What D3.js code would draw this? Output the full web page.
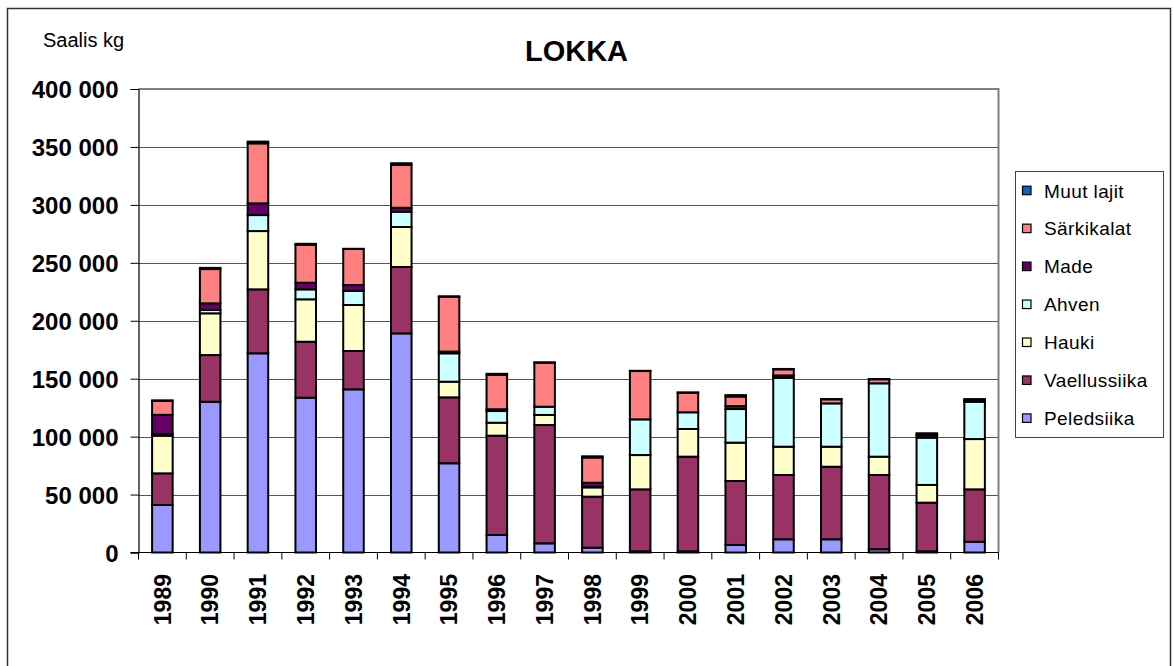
<!DOCTYPE html>
<html><head><meta charset="utf-8">
<script src="https://cdn.jsdelivr.net/npm/d3@7"></script>
<style>body{margin:0;background:#fff;}svg{display:block;font-family:"Liberation Sans",Arial,sans-serif;}</style>
</head><body><svg id="c" width="1174" height="666"></svg>
<script>
const years = ["1989","1990","1991","1992","1993","1994","1995","1996","1997","1998","1999","2000","2001","2002","2003","2004","2005","2006"];
const peledsiika   = [41000,130100,171900,133600,140800,189100,77000,15100,7900,4200,1000,1000,6500,11400,11400,2800,1000,9300];
const vaellussiika = [27300,40300,55200,48300,33100,57300,56900,85700,102100,44000,53500,81700,55200,55500,62600,64100,42000,45200];
const hauki        = [32500,36000,50300,36600,39700,34500,13500,11200,8700,8000,29600,23900,33100,24400,17300,15800,15300,43400];
const ahven        = [1500,2900,13800,8600,12100,13200,24500,10100,7100,500,30800,14400,29000,59500,37400,63300,40800,32200];
const made         = [16500,5700,10100,5700,5100,3400,1500,1500,0,3500,0,0,2600,2000,0,0,2000,1000];
const sarkikalat   = [12000,29600,51800,32600,31100,36900,47400,29600,38000,21800,41700,16900,8200,5300,3500,3500,1000,500];
const muutLajit    = [500,1000,1500,1000,200,1500,200,1000,300,1000,200,200,1200,300,200,200,800,800];
const seriesNames  = ["Peledsiika","Vaellussiika","Hauki","Ahven","Made","Särkikalat","Muut lajit"];
const seriesColors = ["#9999FF","#993366","#FFFFCC","#CCFFFF","#660066","#FF8080","#0066CC"];
const yTicks = [0,50000,100000,150000,200000,250000,300000,350000,400000];
const title = "LOKKA";
const yUnit = "Saalis kg";

const seriesValues = [peledsiika,vaellussiika,hauki,ahven,made,sarkikalat,muutLajit];
const rows = years.map((y,i)=>{const r={year:y}; seriesNames.forEach((n,k)=>r[n]=seriesValues[k][i]); return r;});
const stacked = d3.stack().keys(seriesNames)(rows);

const svg = d3.select("#c");
const L=138.5, R=998.5, T=89, B=552.5;
const x = d3.scaleBand().domain(years).range([L,R]).paddingInner(0.57).paddingOuter(0.285);
const y = d3.scaleLinear().domain([0,400000]).range([B,T]);
const fmt = v => d3.format(",")(v).replace(/,/g," ");

// outer frame
svg.append("path").attr("d","M7.5,668 V8.5 H1170.5 V668").attr("fill","none").attr("stroke","#333").attr("stroke-width",1.5);

// gridlines
svg.append("g").selectAll("line").data(yTicks.filter(t=>t>0 && t<400000)).join("line")
  .attr("x1",L).attr("x2",R).attr("y1",d=>Math.round(y(d))+0.5).attr("y2",d=>Math.round(y(d))+0.5)
  .attr("stroke","#555").attr("stroke-width",1);
// plot border (top/right)
svg.append("path").attr("d",`M${L},${T} H${R} V${B}`).attr("fill","none").attr("stroke","#808080").attr("stroke-width",2);

// bars
const g = svg.append("g");
stacked.forEach((s,k)=>{
  g.append("g").selectAll("rect").data(s).join("rect")
    .attr("x",d=>x(d.data.year)).attr("width",x.bandwidth())
    .attr("y",d=>y(d[1])).attr("height",d=>Math.max(0,y(d[0])-y(d[1])))
    .attr("fill",seriesColors[k]).attr("stroke","#000").attr("stroke-width",2);
});

// y axis
const yAxis = d3.axisLeft(y).tickValues(yTicks).tickSize(8).tickPadding(12).tickFormat(fmt);
const ya = svg.append("g").attr("transform",`translate(${L},0)`).call(yAxis);
ya.select(".domain").attr("stroke","#000").attr("stroke-width",1.2);
ya.selectAll(".tick line").attr("stroke","#000");
ya.selectAll("text").attr("font-size",24).attr("font-weight","bold").attr("fill","#000")
  .attr("font-family","'Liberation Sans',Arial,sans-serif").attr("dy","0.36em");

// x axis
const xa = svg.append("g").attr("transform",`translate(0,${B})`);
xa.append("line").attr("x1",L-8).attr("x2",R).attr("stroke","#000").attr("stroke-width",1.2);
const step = x.step();
xa.selectAll("line.t").data(d3.range(years.length+1)).join("line").attr("class","t")
  .attr("x1",i=>L+i*step).attr("x2",i=>L+i*step).attr("y1",0).attr("y2",7).attr("stroke","#000");
xa.selectAll("text").data(years).join("text")
  .attr("transform",d=>`translate(${x(d)+x.bandwidth()/2},${574-B}) rotate(-90)`)
  .attr("text-anchor","end").attr("dy","0.36em")
  .attr("font-size",23).attr("font-weight","bold").text(d=>d);

// title and unit
svg.append("text").attr("x",576.5).attr("y",61).attr("text-anchor","middle")
  .attr("font-size",29).attr("font-weight","bold").text(title);
svg.append("text").attr("x",43).attr("y",47).attr("font-size",20).text(yUnit);

// legend
const lg = svg.append("g");
lg.append("rect").attr("x",1015.5).attr("y",171.5).attr("width",148).attr("height",266)
  .attr("fill","#fff").attr("stroke","#444").attr("stroke-width",1);
const legendOrder = d3.range(seriesNames.length).reverse();
legendOrder.forEach((k,i)=>{
  const cy = 190.7 + i*37.95;
  lg.append("rect").attr("x",1022.5).attr("y",cy-4.5).attr("width",8.5).attr("height",8.5)
    .attr("fill",seriesColors[k]).attr("stroke","#000").attr("stroke-width",1.2);
  lg.append("text").attr("x",1044).attr("y",cy).attr("dy","0.36em").attr("font-size",19)
    .style("letter-spacing","0.4px").text(seriesNames[k]);
});
</script></body></html>
